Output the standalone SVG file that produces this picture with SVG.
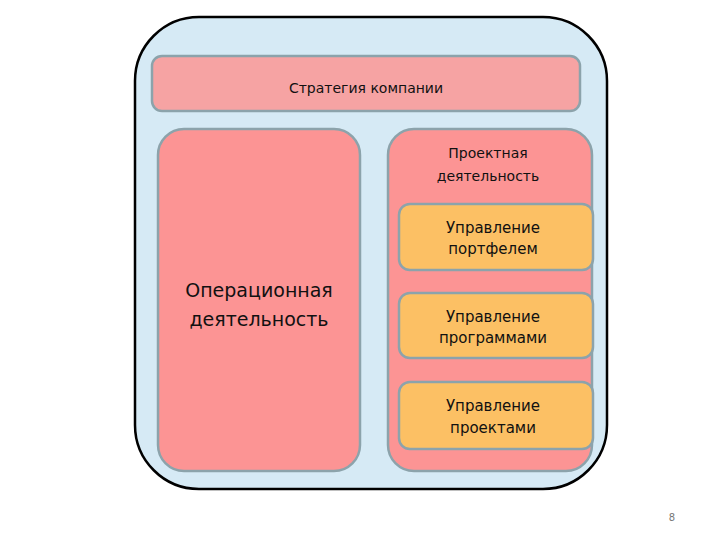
<svg xmlns="http://www.w3.org/2000/svg" width="720" height="540" viewBox="0 0 720 540">
<style>
.box{stroke:#8ca3ab;stroke-width:2.5}
.pink{fill:#fc9494}
.sub{fill:#fcc064}
.t{font-family:"DejaVu Sans","Liberation Sans",sans-serif;fill:#111;text-anchor:middle}
.s{font-size:15px}
</style>
<defs>
<clipPath id="outerClip"><rect x="135" y="17" width="472" height="472" rx="64" ry="64"/></clipPath>
</defs>
<rect width="720" height="540" fill="#fff"/>
<g id="outer">
<rect x="135" y="17" width="472" height="472" rx="64" ry="64" fill="#d6eaf5"/>
</g>
<g clip-path="url(#outerClip)">
<g id="strategy">
<rect class="box" x="152" y="56" width="428" height="55" rx="10" fill="#f6a3a3"/>
<text class="t" x="366" y="93" font-size="14">Стратегия компании</text>
</g>
<g id="operations">
<rect class="box pink" x="158" y="129" width="202" height="342" rx="26"/>
<text class="t" x="259" y="297" font-size="19">Операционная</text>
<text class="t" x="259" y="326" font-size="19">деятельность</text>
</g>
<g id="projects">
<rect class="box pink" x="388" y="129" width="204" height="342" rx="26"/>
<text class="t" x="488" y="158" font-size="14">Проектная</text>
<text class="t" x="488" y="181" font-size="14">деятельность</text>
</g>
<g id="portfolio">
<rect class="box sub" x="399" y="204" width="194" height="66" rx="11"/>
<text class="t s" x="493" y="233">Управление</text>
<text class="t s" x="493" y="254">портфелем</text>
</g>
<g id="programs">
<rect class="box sub" x="399" y="293" width="194" height="65" rx="11"/>
<text class="t s" x="493" y="322">Управление</text>
<text class="t s" x="493" y="343">программами</text>
</g>
<g id="projectsMgmt">
<rect class="box sub" x="399" y="382" width="194" height="67" rx="11"/>
<text class="t s" x="493" y="411">Управление</text>
<text class="t s" x="493" y="433">проектами</text>
</g>
</g>
<rect x="135" y="17" width="472" height="472" rx="64" ry="64" fill="none" stroke="#000" stroke-width="2.5"/>
<g id="connectors"/>
<text x="672" y="521" font-family="DejaVu Sans, sans-serif" font-size="10" fill="#777" text-anchor="middle">8</text>
</svg>
